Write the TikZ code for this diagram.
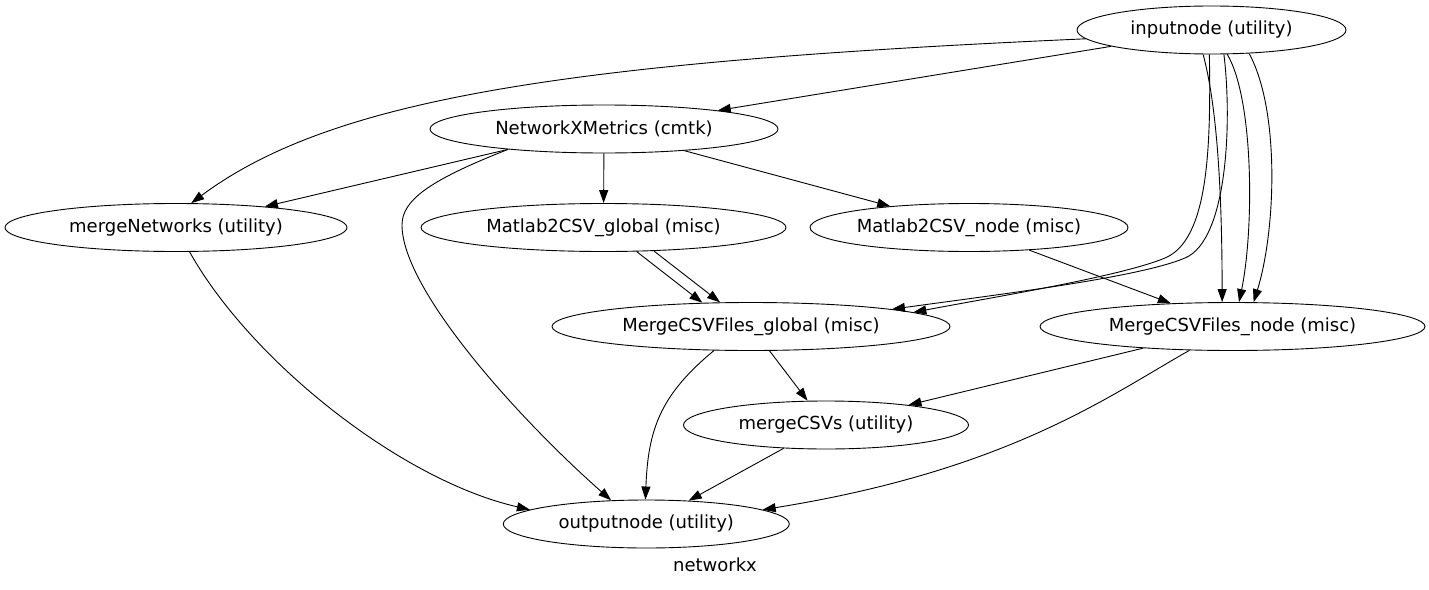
\documentclass[tikz,border=0pt]{standalone}
\usepackage{fontspec}
\setmainfont{DejaVu Sans}
\usetikzlibrary{shapes.geometric,arrows.meta}
\begin{document}
\begin{tikzpicture}[x=1pt,y=-1pt,
  nd/.style={draw,ellipse,inner sep=0pt,minimum height=48pt,line width=0.9pt,font=\fontsize{18}{21}\selectfont},
  edge/.style={-{Triangle[length=13pt,width=9pt]},line width=0.9pt},
  lbl/.style={font=\fontsize{18}{21}\selectfont}]
\useasboundingbox (0,0) rectangle (1429,589);
% nodes
\node[nd,minimum width=269] (in)  at (1211.5,30)  {inputnode (utility)};
\node[nd,minimum width=348] (nx)  at (604,129)    {NetworkXMetrics (cmtk)};
\node[nd,minimum width=342] (mn)  at (176,227.5)  {mergeNetworks (utility)};
\node[nd,minimum width=365] (m2g) at (603.5,227.5){Matlab2CSV\_global (misc)};
\node[nd,minimum width=318] (m2n) at (969,227.5)  {Matlab2CSV\_node (misc)};
\node[nd,minimum width=398] (mcg) at (751,326.5)  {MergeCSVFiles\_global (misc)};
\node[nd,minimum width=385] (mcn) at (1232.5,326.5){MergeCSVFiles\_node (misc)};
\node[nd,minimum width=285] (mc)  at (826,425)    {mergeCSVs (utility)};
\node[nd,minimum width=286] (out) at (646.3,524)  {outputnode (utility)};
\node[lbl,anchor=base] (title) at (715,571) {networkx};
% edges
\draw[edge] (in) -- (nx);
\draw[edge] (in.184) .. controls (560,62) and (330,100) .. (mn.58);
\draw[edge] (nx.192.5) -- (mn);
\draw[edge] (nx) -- (m2g);
\draw[edge] (nx) -- (m2n);
\draw[edge] (nx.192.5) .. controls (430,180) and (402,200) .. (402,225)
   .. controls (402,290) and (520,420) .. (out.146);
\draw[edge] (mn) .. controls (250,360) and (400,480) .. (out.173);
\draw[edge] (m2g.-36) -- (mcg.154);
\draw[edge] (m2g.-25) -- (mcg.142);
\draw[edge] (m2n) -- (mcn);
\draw[edge] (in.265) .. controls (1211,150) and (1208,240) .. (1165,258)
   .. controls (1122,276) and (1000,296) .. (mcg.5);
\draw[edge] (in.297) .. controls (1232,120) and (1228,240) .. (1185,258)
   .. controls (1140,277) and (1010,293) .. (mcg.7);
\draw[edge] (in.251) .. controls (1218,110) and (1222,200) .. (mcn.113);
\draw[edge] (in.303) .. controls (1254,100) and (1254,230) .. (mcn.75);
\draw[edge] (in.328) .. controls (1280,110) and (1276,230) .. (mcn.49);
\draw[edge] (mcg.213) .. controls (660,395) and (648,430) .. (out.92);
\draw[edge] (mcg) -- (mc);
\draw[edge] (mcn) -- (mc);
\draw[edge] (mcn.209) .. controls (1110,395) and (1010,470) .. (out.7.5);
\draw[edge] (mc) -- (out);
\end{tikzpicture}
\end{document}
